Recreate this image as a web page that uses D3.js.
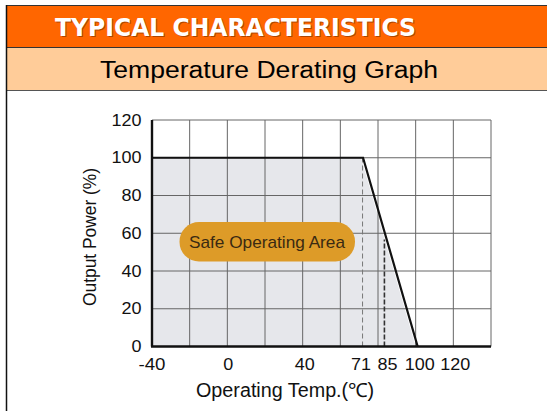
<!DOCTYPE html>
<html>
<head>
<meta charset="utf-8">
<script src="https://cdn.jsdelivr.net/npm/d3@7"></script>
<style>
  html, body { margin: 0; padding: 0; background: #fff; }
  svg { display: block; }
</style>
</head>
<body>
<div id="chart"></div>
<script>
// data
const xTicks = [-40, 0, 40, 71, 85, 100, 120]
const xGrid = [-40, -20, 0, 20, 40, 60, 80, 100, 120, 140]
const yTicks = [0, 20, 40, 60, 80, 100, 120]
const deratingTemp = [-40, 71, 100]
const deratingPower = [100, 100, 0]
const markTemp = [71, 85]

const W = 547, H = 411

const svg = d3.select("#chart").append("svg")
    .attr("width", W)
    .attr("height", H)

// header bars
svg.append("rect").attr("x", 6).attr("y", 5).attr("width", W).attr("height", 42.5)
    .attr("fill", "#ff6600")
svg.append("rect").attr("x", 6).attr("y", 47.5).attr("width", W).attr("height", 43)
    .attr("fill", "#ffcc99")
svg.append("line").attr("x1", 6).attr("x2", W).attr("y1", 5.5).attr("y2", 5.5)
    .attr("stroke", "#333").attr("stroke-width", 1)
svg.append("line").attr("x1", 6).attr("x2", W).attr("y1", 47.5).attr("y2", 47.5)
    .attr("stroke", "#333").attr("stroke-width", 1)
svg.append("line").attr("x1", 6).attr("x2", W).attr("y1", 90.5).attr("y2", 90.5)
    .attr("stroke", "#555").attr("stroke-width", 1.2)
svg.append("line").attr("x1", 6.5).attr("x2", 6.5).attr("y1", 5).attr("y2", H)
    .attr("stroke", "#111").attr("stroke-width", 1.5)

// title with a little shadow
svg.append("text").attr("x", 56).attr("y", 37)
    .attr("font-family", "DejaVu Sans").attr("font-weight", "bold").attr("font-size", 24)
    .attr("textLength", 361).attr("lengthAdjust", "spacingAndGlyphs")
    .attr("fill", "#7a3000").attr("opacity", 0.6)
    .text("TYPICAL CHARACTERISTICS")
svg.append("text").attr("x", 55).attr("y", 36)
    .attr("font-family", "DejaVu Sans").attr("font-weight", "bold").attr("font-size", 24)
    .attr("textLength", 361).attr("lengthAdjust", "spacingAndGlyphs")
    .attr("fill", "#fff")
    .text("TYPICAL CHARACTERISTICS")

svg.append("text").attr("x", 100).attr("y", 77.5)
    .attr("font-family", "Liberation Sans, Arial").attr("font-size", 23)
    .attr("textLength", 338).attr("lengthAdjust", "spacingAndGlyphs")
    .attr("fill", "#000")
    .text("Temperature Derating Graph")

// plot
const x = d3.scaleLinear().domain([-40, 140]).range([152, 491])
const y = d3.scaleLinear().domain([0, 120]).range([346.5, 120])

const g = svg.append("g")

// safe area fill
const area = d3.area()
    .x((d, i) => x(deratingTemp[i]))
    .y0(y(0))
    .y1((d, i) => y(deratingPower[i]))
g.append("path")
    .datum(deratingTemp)
    .attr("d", area)
    .attr("fill", "#e6e7eb")

// grid
g.selectAll(".vg").data(xGrid).join("line")
    .attr("x1", d => x(d)).attr("x2", d => x(d))
    .attr("y1", y(0)).attr("y2", y(120))
    .attr("stroke", "#666").attr("stroke-width", 1)
g.selectAll(".hg").data(yTicks).join("line")
    .attr("x1", x(-40)).attr("x2", x(140))
    .attr("y1", d => y(d)).attr("y2", d => y(d))
    .attr("stroke", "#666").attr("stroke-width", 1)

// dashed marks at 71 and 85
const lineAt = t => {
    const k = (t - deratingTemp[1]) / (deratingTemp[2] - deratingTemp[1])
    return t <= deratingTemp[1] ? deratingPower[1] : deratingPower[1] + k * (deratingPower[2] - deratingPower[1])
}
g.append("line")
    .attr("x1", x(markTemp[0]) + 1.5).attr("x2", x(markTemp[0]) + 1.5)
    .attr("y1", y(0)).attr("y2", y(lineAt(markTemp[0])))
    .attr("stroke", "#777").attr("stroke-width", 1).attr("stroke-dasharray", "5,3")
g.append("line")
    .attr("x1", x(markTemp[1]) - 3).attr("x2", x(markTemp[1]) - 3)
    .attr("y1", y(0)).attr("y2", y(lineAt(markTemp[1]) + 5))
    .attr("stroke", "#333").attr("stroke-width", 1.6).attr("stroke-dasharray", "5,2")

// derating curve
g.append("path")
    .datum(deratingTemp.map((d, i) => i))
    .attr("d", d3.line().x(i => x(deratingTemp[i]) + (i > 0 ? 2 : 0)).y(i => y(deratingPower[i])))
    .attr("fill", "none").attr("stroke", "#111").attr("stroke-width", 2.2)

// axes lines
g.append("line").attr("x1", x(-40)).attr("x2", x(-40)).attr("y1", y(120)).attr("y2", y(0))
    .attr("stroke", "#111").attr("stroke-width", 2.4)
g.append("line").attr("x1", x(-40) - 1).attr("x2", x(140)).attr("y1", y(0)).attr("y2", y(0))
    .attr("stroke", "#111").attr("stroke-width", 2.4)

// tick labels (digits in the picture are a bit wide)
const labelLen = d => String(d).replace("-", "").length * 10 + (d < 0 ? 7 : 0)

g.selectAll(".yl").data(yTicks).join("text")
    .attr("x", d => 141.5 - labelLen(d)).attr("y", d => y(d) + 5.5)
    .attr("font-family", "Liberation Sans, Arial").attr("font-size", 16)
    .attr("textLength", labelLen).attr("lengthAdjust", "spacingAndGlyphs")
    .attr("fill", "#111")
    .text(d => d)

const xShift = { 100: 4, 120: 2, 40: 2, 0: 1 }
g.selectAll(".xl").data(xTicks).join("text")
    .attr("x", d => x(d) + (xShift[d] || 0) - labelLen(d) / 2).attr("y", 370)
    .attr("font-family", "Liberation Sans, Arial").attr("font-size", 16)
    .attr("textLength", labelLen).attr("lengthAdjust", "spacingAndGlyphs")
    .attr("fill", "#111")
    .text(d => d)

// axis titles
svg.append("text")
    .attr("transform", "translate(96,306) rotate(-90)")
    .attr("font-family", "Liberation Sans, Arial").attr("font-size", 18.5)
    .attr("textLength", 138).attr("lengthAdjust", "spacingAndGlyphs")
    .attr("fill", "#111")
    .text("Output Power (%)")
svg.append("text")
    .attr("x", 196).attr("y", 397)
    .attr("font-family", "Liberation Sans, Arial").attr("font-size", 19.5)
    .attr("textLength", 178).attr("lengthAdjust", "spacingAndGlyphs")
    .attr("fill", "#111")
    .text("Operating Temp.(℃)")

// safe operating area pill
svg.append("rect")
    .attr("x", 179.5).attr("y", 222).attr("width", 175.5).attr("height", 39.5)
    .attr("rx", 19.5).attr("fill", "#dd9b28")
svg.append("text")
    .attr("x", 189).attr("y", 247.5)
    .attr("font-family", "Liberation Sans, Arial").attr("font-size", 17)
    .attr("textLength", 156).attr("lengthAdjust", "spacingAndGlyphs")
    .attr("fill", "#3a2a12")
    .text("Safe Operating Area")
</script>
</body>
</html>
